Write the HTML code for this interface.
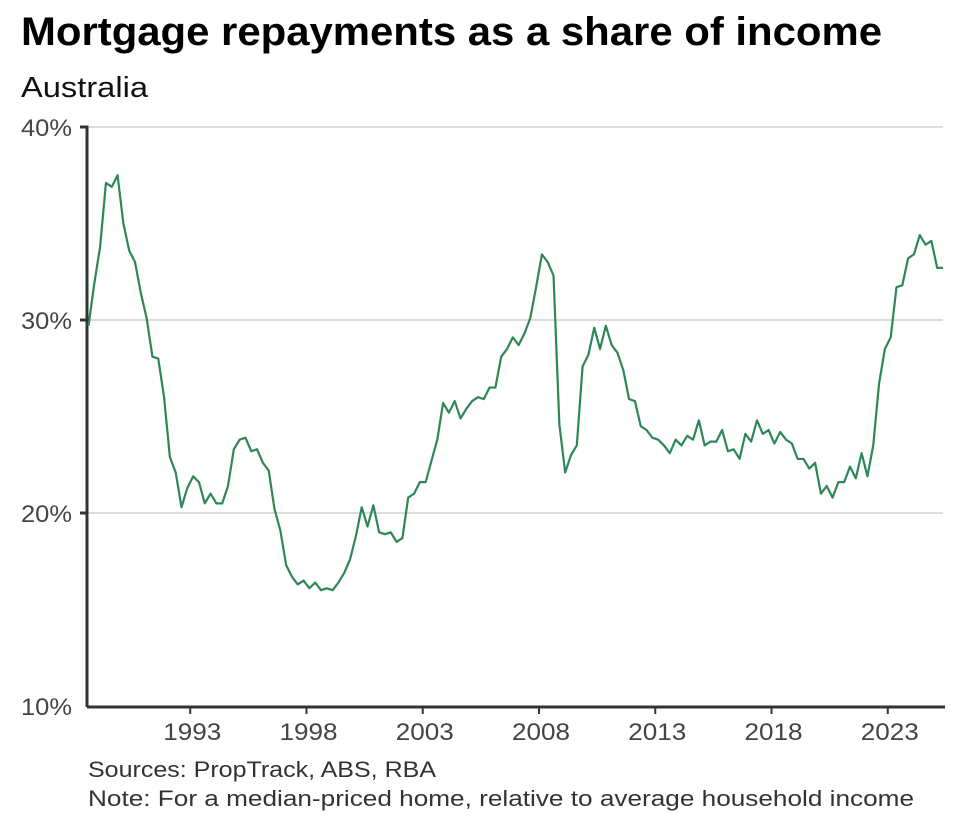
<!DOCTYPE html>
<html><head><meta charset="utf-8"><style>
body{margin:0;background:#fff;}
svg{display:block;font-family:"Liberation Sans",sans-serif;}
</style></head><body>
<svg id="chart" width="953" height="831" viewBox="0 0 953 831">
<text x="21" y="45" font-size="40" font-weight="bold" fill="#000" textLength="861" lengthAdjust="spacingAndGlyphs">Mortgage repayments as a share of income</text>
<text x="21" y="97" font-size="29" fill="#111" textLength="127" lengthAdjust="spacingAndGlyphs">Australia</text>
<g id="grid"></g>
<g id="yaxis"></g>
<g id="xaxis"></g>
<path id="line" fill="none" stroke="#2e8757" stroke-width="2.2" stroke-linejoin="round"/>
<text x="88" y="777" font-size="22" fill="#333" textLength="348" lengthAdjust="spacingAndGlyphs">Sources: PropTrack, ABS, RBA</text>
<text x="88" y="806" font-size="22" fill="#333" textLength="826" lengthAdjust="spacingAndGlyphs">Note: For a median-priced home, relative to average household income</text>
</svg>
<script>
const yTicks=[10,20,30,40];
const yTickLabels=["10%","20%","30%","40%"];
const xTicks=[1993,1998,2003,2008,2013,2018,2023];
const xTickLabels=["1993","1998","2003","2008","2013","2018","2023"];
const startYear=1988.625;
const values=[29.7,31.9,33.8,37.1,36.9,37.5,35.0,33.6,33.0,31.4,30.1,28.1,28.0,26.0,22.9,22.1,20.3,21.3,21.9,21.6,20.5,21.0,20.5,20.5,21.4,23.3,23.8,23.9,23.2,23.3,22.6,22.2,20.2,19.1,17.3,16.7,16.3,16.5,16.1,16.4,16.0,16.1,16.0,16.4,16.9,17.6,18.8,20.3,19.3,20.4,19.0,
18.9,19.0,18.5,18.7,20.8,21.0,21.6,21.6,22.7,23.8,25.7,25.2,25.8,24.9,25.4,25.8,26.0,25.9,26.5,26.5,28.1,28.5,29.1,28.7,29.3,30.1,31.7,33.4,33.0,32.3,24.6,22.1,23.0,23.5,27.6,28.2,29.6,28.5,29.7,28.7,28.3,27.4,25.9,25.8,24.5,24.3,23.9,23.8,23.5,23.1,
23.8,23.5,24.0,23.8,24.8,23.5,23.7,23.7,24.3,23.2,23.3,22.8,24.1,23.7,24.8,24.1,24.3,23.6,24.2,23.8,23.6,22.8,22.8,22.3,22.6,21.0,21.4,20.8,21.6,21.6,22.4,21.8,23.1,21.9,23.5,26.7,28.5,29.1,31.7,31.8,33.2,33.4,34.4,33.9,34.1,32.7,32.7];
const NS="http://www.w3.org/2000/svg";
const X0=88.5,X1=943,Y0=706,Y1=127;
const t0=startYear,t1=startYear+(values.length-1)*0.25;
function xs(t){return X0+(t-t0)/(t1-t0)*(X1-X0);}
function ys(v){return Y0-(v-10)/(40-10)*(Y0-Y1);}
function mk(tag,attrs,parent){const e=document.createElementNS(NS,tag);for(const k in attrs)e.setAttribute(k,attrs[k]);parent.appendChild(e);return e;}
const grid=document.getElementById('grid'),ya=document.getElementById('yaxis'),xa=document.getElementById('xaxis');
yTicks.forEach((v,i)=>{
  if(v>10){const g=mk('line',{x1:87,x2:943,y1:ys(v),y2:ys(v),stroke:'#dcdcdc','stroke-width':2},grid);
  
  
  const tk=mk('line',{x1:80,x2:87,y1:ys(v),y2:ys(v),stroke:'#333','stroke-width':3},ya);
  
  }
  const t=mk('text',{x:72,y:ys(v)+9,'font-size':24,fill:'#444','text-anchor':'end',textLength:51,lengthAdjust:'spacingAndGlyphs'},ya);
  t.textContent=yTickLabels[i];
  
  
});
const ax=mk('line',{x1:87,x2:87,y1:125.5,y2:707,stroke:'#333','stroke-width':3},ya);


const bx=mk('line',{x1:87,x2:945,y1:707,y2:707,stroke:'#333','stroke-width':3},xa);


xTicks.forEach((yr,i)=>{
  const x=xs(yr);
  const tk=mk('line',{x1:x,x2:x,y1:707,y2:714,stroke:'#333','stroke-width':2},xa);
  
  
  const t=mk('text',{x:x+2,y:740,'font-size':24,fill:'#444','text-anchor':'middle',textLength:58,lengthAdjust:'spacingAndGlyphs'},xa);
  t.textContent=xTickLabels[i];
  
  
});
let d='';
values.forEach((v,i)=>{d+=(i?'L':'M')+xs(t0+i*0.25).toFixed(2)+','+ys(v).toFixed(2);});
document.getElementById('line').setAttribute('d',d);
</script>
</body></html>
